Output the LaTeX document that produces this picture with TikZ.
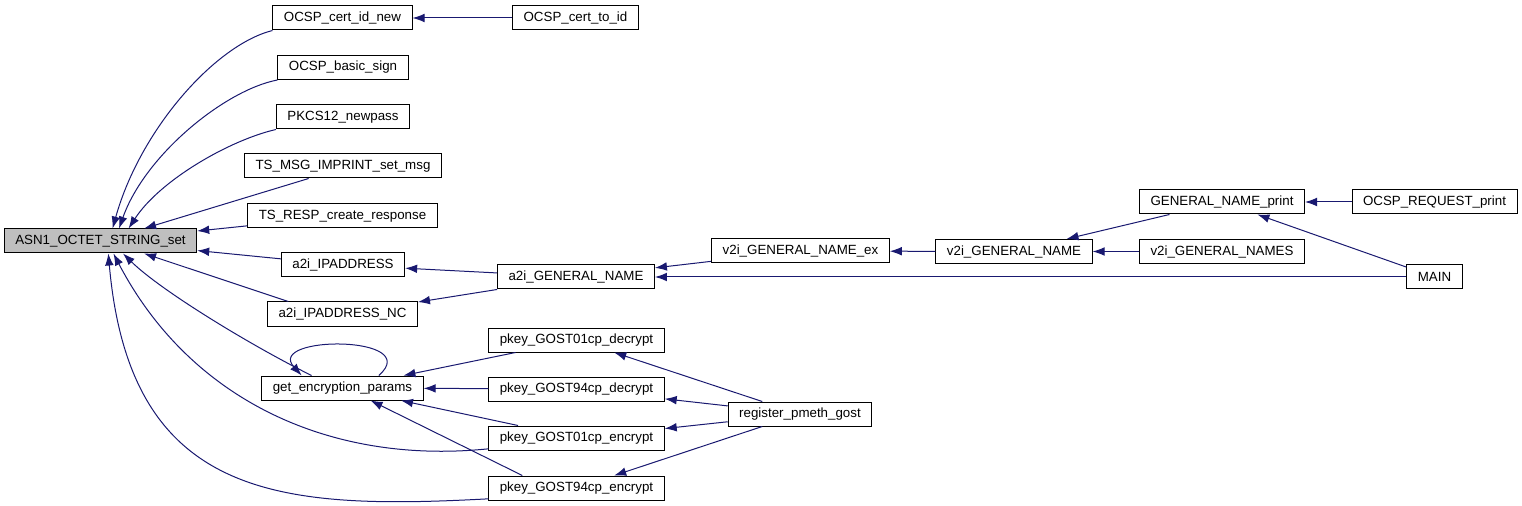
\documentclass[tikz,border=0pt]{standalone}
\usepackage{fontspec}
\setmainfont{Liberation Sans}
\usetikzlibrary{arrows.meta}
\definecolor{edgeblue}{HTML}{191970}
\definecolor{nodegray}{HTML}{BFBFBF}
\tikzset{every picture/.style={line width=0.75pt}}
\tikzset{
  fn/.style={draw=black, inner xsep=8.25pt, inner ysep=0pt, minimum height=18pt,
    font=\fontsize{10}{12}\selectfont},
  call/.style={draw=edgeblue, -{Latex[length=9pt,width=6.5pt]}},
}

\begin{document}
\begin{tikzpicture}[x=0.75pt, y=-0.75pt]
    \useasboundingbox (0,0) rectangle (1522,506);

    % the function itself
    \node[fn, fill=nodegray] (asn) at (100.5,241) {ASN1\_OCTET\_STRING\_set};

    % direct callers
    \node[fn] (certidnew)  at (342.5,18)  {OCSP\_cert\_id\_new};
    \node[fn] (basicsign)  at (343,67.5)  {OCSP\_basic\_sign};
    \node[fn] (newpass)    at (343,117)   {PKCS12\_newpass};
    \node[fn] (imprint)    at (343,166)   {TS\_MSG\_IMPRINT\_set\_msg};
    \node[fn] (createresp) at (342.5,216) {TS\_RESP\_create\_response};
    \node[fn] (ipaddr)     at (343,265)   {a2i\_IPADDRESS};
    \node[fn] (ipaddrnc)   at (342.5,314) {a2i\_IPADDRESS\_NC};
    \node[fn] (getenc)     at (342.5,388) {get\_encryption\_params};

    % next column
    \node[fn] (certtoid) at (575.5,18)  {OCSP\_cert\_to\_id};
    \node[fn] (a2igen)   at (576,277)   {a2i\_GENERAL\_NAME};
    \node[fn] (gdec01)   at (576.5,340) {pkey\_GOST01cp\_decrypt};
    \node[fn] (gdec94)   at (576.5,389) {pkey\_GOST94cp\_decrypt};
    \node[fn] (genc01)   at (576.5,438) {pkey\_GOST01cp\_encrypt};
    \node[fn] (genc94)   at (576.5,488) {pkey\_GOST94cp\_encrypt};

    \node[fn] (v2iex)    at (800.5,251) {v2i\_GENERAL\_NAME\_ex};
    \node[fn] (regpmeth) at (800,414)   {register\_pmeth\_gost};

    \node[fn] (v2igen)   at (1014,251.5) {v2i\_GENERAL\_NAME};
    \node[fn] (genprint) at (1222,202)   {GENERAL\_NAME\_print};
    \node[fn] (v2inames) at (1222,251.5) {v2i\_GENERAL\_NAMES};
    \node[fn] (reqprint) at (1434.5,202) {OCSP\_REQUEST\_print};
    \node[fn] (mainfn)   at (1434.5,277) {MAIN};

    % calls into ASN1_OCTET_STRING_set
    \draw[call] (certidnew.south west) .. controls (215,45) and (140,130) .. (asn.46);
    \draw[call] (basicsign.south west) .. controls (225,90) and (145,155) .. (asn.34);
    \draw[call] (newpass.south west) .. controls (230,140) and (160,180) .. (asn.24);
    \draw[call] (imprint.-160) -- (asn.16);
    \draw[call] (createresp) -- (asn);
    \draw[call] (ipaddr) -- (asn);
    \draw[call] (ipaddrnc.167) -- (asn.-16);
    \draw[call] (getenc.158) .. controls (250,345) and (160,290) .. (asn.-29);
    \draw[call] (genc01.187) .. controls (330,465) and (190,400) .. (asn.-44);
    \draw[call] (genc94.187) .. controls (280,510) and (130,500) .. (asn.-58);

    % recursive call
    \draw[call] (getenc.19) .. controls (425,335) and (265,335) .. (getenc.163);

    % second level
    \draw[call] (certtoid) -- (certidnew);
    \draw[call] (a2igen) -- (ipaddr);
    \draw[call] (a2igen) -- (ipaddrnc);
    \draw[call] (gdec01) -- (getenc);
    \draw[call] (gdec94) -- (getenc);
    \draw[call] (genc01) -- (getenc);
    \draw[call] (genc94.167) -- (getenc.-24);

    % third level
    \draw[call] (v2iex) -- (a2igen);
    \draw[call] (mainfn) -- (a2igen);
    \draw[call] (regpmeth) -- (gdec01);
    \draw[call] (regpmeth) -- (gdec94);
    \draw[call] (regpmeth) -- (genc01);
    \draw[call] (regpmeth) -- (genc94);

    % right part
    \draw[call] (v2igen) -- (v2iex);
    \draw[call] (genprint) -- (v2igen);
    \draw[call] (v2inames) -- (v2igen);
    \draw[call] (reqprint) -- (genprint);
    \draw[call] (mainfn) -- (genprint);
\end{tikzpicture}
\end{document}
